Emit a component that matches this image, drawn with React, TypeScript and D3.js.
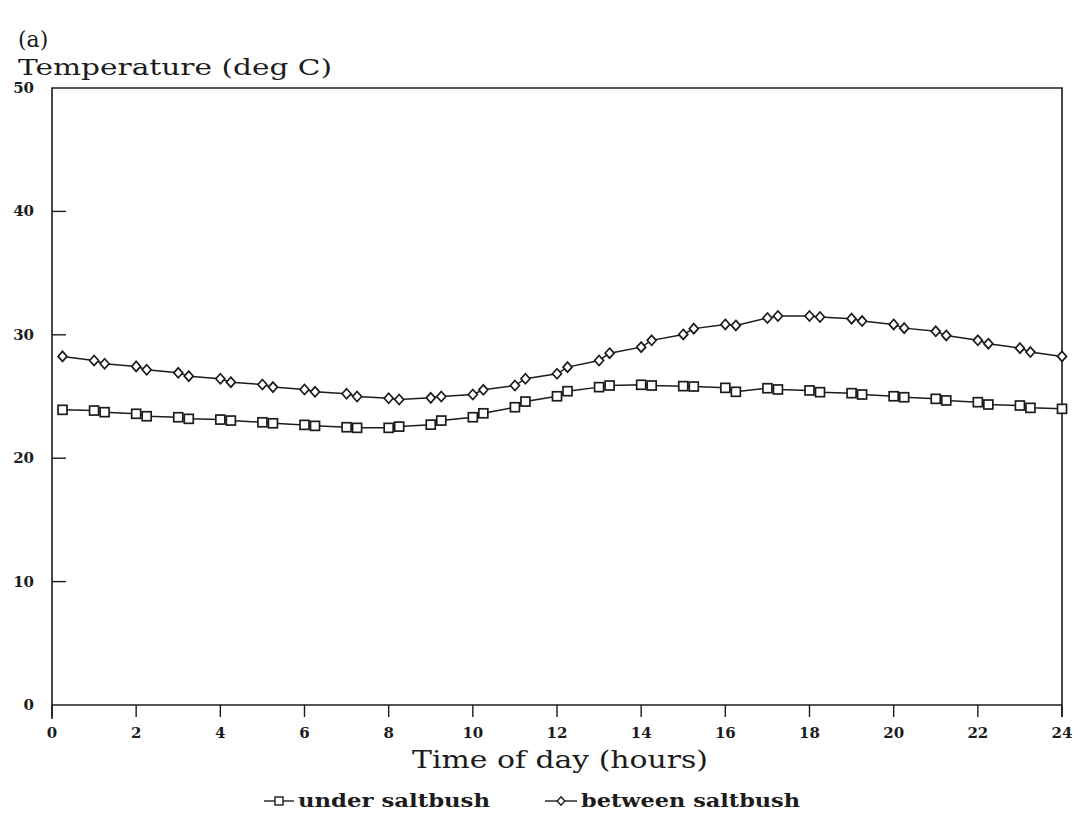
import React from "react";
import * as d3 from "d3";

// Hour of day for each reading
const hours = [
  0.25, 1, 1.25, 2, 2.25, 3, 3.25, 4, 4.25, 5, 5.25, 6, 6.25, 7, 7.25, 8, 8.25,
  9, 9.25, 10, 10.25, 11, 11.25, 12, 12.25, 13, 13.25, 14, 14.25, 15, 15.25,
  16, 16.25, 17, 17.25, 18, 18.25, 19, 19.25, 20, 20.25, 21, 21.25, 22, 22.25,
  23, 23.25, 24,
];

// Temperature (deg C) under saltbush
const underSaltbush = [
  23.92, 23.86, 23.73, 23.6, 23.4, 23.32, 23.19, 23.13, 23.05, 22.91, 22.83,
  22.7, 22.62, 22.51, 22.46, 22.46, 22.56, 22.72, 23.05, 23.32, 23.64, 24.13,
  24.59, 25.02, 25.43, 25.76, 25.89, 25.95, 25.89, 25.84, 25.81, 25.7, 25.38,
  25.67, 25.57, 25.49, 25.35, 25.27, 25.16, 25.02, 24.94, 24.81, 24.68, 24.54,
  24.35, 24.27, 24.08, 24.0,
];

// Temperature (deg C) between saltbush
const betweenSaltbush = [
  28.25, 27.92, 27.65, 27.44, 27.17, 26.92, 26.65, 26.44, 26.16, 25.97, 25.76,
  25.57, 25.38, 25.22, 25.0, 24.86, 24.76, 24.89, 25.0, 25.16, 25.54, 25.89,
  26.44, 26.84, 27.38, 27.92, 28.51, 29.0, 29.55, 30.03, 30.5, 30.84, 30.76,
  31.36, 31.52, 31.52, 31.44, 31.31, 31.11, 30.84, 30.54, 30.28, 29.95, 29.55,
  29.28, 28.92, 28.6, 28.25,
];

const xTicks = [0, 2, 4, 6, 8, 10, 12, 14, 16, 18, 20, 22, 24];
const yTicks = [0, 10, 20, 30, 40, 50];

const W = 1088;
const H = 823;
const INK = "#1c1c1c";
const SERIF = "'DejaVu Serif', 'Liberation Serif', serif";

export default function App() {
  const x = d3.scaleLinear().domain([0, 24]).range([52, 1062]);
  const y = d3.scaleLinear().domain([0, 50]).range([705, 88]);

  const line = d3
    .line<number>()
    .x((_, i) => x(hours[i]))
    .y((d) => y(d));

  const sq = 9;
  const dw = 4.5;
  const dh = 5;
  const diamond = (cx: number, cy: number, s = 1) =>
    `M${cx},${cy - dh * s}L${cx + dw * s},${cy}L${cx},${cy + dh * s}L${cx - dw * s},${cy}Z`;

  const left = x(0);
  const right = x(24);
  const top = y(50);
  const bottom = y(0);

  return (
    <svg
      width={W}
      height={H}
      style={{ position: "absolute", left: 0, top: 0, background: "#fff" }}
    >
      {/* panel label and y-axis title */}
      <text x={18} y={47} fontFamily={SERIF} fontSize={22} fill={INK}>
        (a)
      </text>
      <text
        x={18}
        y={75}
        fontFamily={SERIF}
        fontSize={22}
        fill={INK}
        textLength={314}
        lengthAdjust="spacingAndGlyphs"
      >
        Temperature (deg C)
      </text>

      {/* frame */}
      <path
        d={`M${left},${bottom + 14}V${top}H${right}V${bottom + 12}`}
        fill="none"
        stroke={INK}
        strokeWidth={1.6}
      />
      <line
        x1={left}
        x2={right}
        y1={bottom}
        y2={bottom}
        stroke={INK}
        strokeWidth={1.6}
      />

      {/* y ticks (inward) and labels */}
      {yTicks.map((t) => (
        <g key={`y${t}`}>
          {t > 0 && t < 50 && (
            <line
              x1={left}
              x2={left + 14}
              y1={y(t)}
              y2={y(t)}
              stroke={INK}
              strokeWidth={1.4}
            />
          )}
          <text
            x={34}
            y={y(t)}
            textAnchor="end"
            dominantBaseline="central"
            fontFamily={SERIF}
            fontWeight="bold"
            fontSize={15}
            fill={INK}
          >
            {t}
          </text>
        </g>
      ))}

      {/* x ticks (outward) and labels */}
      {xTicks.map((t) => (
        <g key={`x${t}`}>
          <line
            x1={x(t)}
            x2={x(t)}
            y1={bottom}
            y2={bottom + 12}
            stroke={INK}
            strokeWidth={1.4}
          />
          <text
            x={x(t)}
            y={733}
            textAnchor="middle"
            dominantBaseline="central"
            fontFamily={SERIF}
            fontWeight="bold"
            fontSize={15}
            fill={INK}
          >
            {t}
          </text>
        </g>
      ))}

      <text
        x={412}
        y={768}
        fontFamily={SERIF}
        fontSize={24}
        fill={INK}
        textLength={296}
        lengthAdjust="spacingAndGlyphs"
      >
        Time of day (hours)
      </text>

      {/* series lines */}
      <path d={line(underSaltbush) ?? ""} fill="none" stroke={INK} strokeWidth={1.5} />
      <path d={line(betweenSaltbush) ?? ""} fill="none" stroke={INK} strokeWidth={1.5} />

      {/* square markers */}
      {underSaltbush.map((v, i) => (
        <rect
          key={`s${i}`}
          x={x(hours[i]) - sq / 2}
          y={y(v) - sq / 2}
          width={sq}
          height={sq}
          fill="#fff"
          stroke={INK}
          strokeWidth={1.7}
        />
      ))}

      {/* diamond markers */}
      {betweenSaltbush.map((v, i) => (
        <path
          key={`d${i}`}
          d={diamond(x(hours[i]), y(v))}
          fill="#fff"
          stroke={INK}
          strokeWidth={1.7}
        />
      ))}

      {/* legend */}
      <g>
        <line x1={264} x2={294} y1={801} y2={801} stroke={INK} strokeWidth={1.4} />
        <rect x={275} y={797} width={8} height={8} fill="#fff" stroke={INK} strokeWidth={1.4} />
        <text
          x={298}
          y={807}
          fontFamily={SERIF}
          fontWeight="bold"
          fontSize={18}
          fill={INK}
          textLength={192}
          lengthAdjust="spacingAndGlyphs"
        >
          under saltbush
        </text>
        <line x1={545} x2={577} y1={801} y2={801} stroke={INK} strokeWidth={1.4} />
        <path d={diamond(561, 801, 0.85)} fill="#fff" stroke={INK} strokeWidth={1.4} />
        <text
          x={581}
          y={807}
          fontFamily={SERIF}
          fontWeight="bold"
          fontSize={18}
          fill={INK}
          textLength={219}
          lengthAdjust="spacingAndGlyphs"
        >
          between saltbush
        </text>
      </g>
    </svg>
  );
}
